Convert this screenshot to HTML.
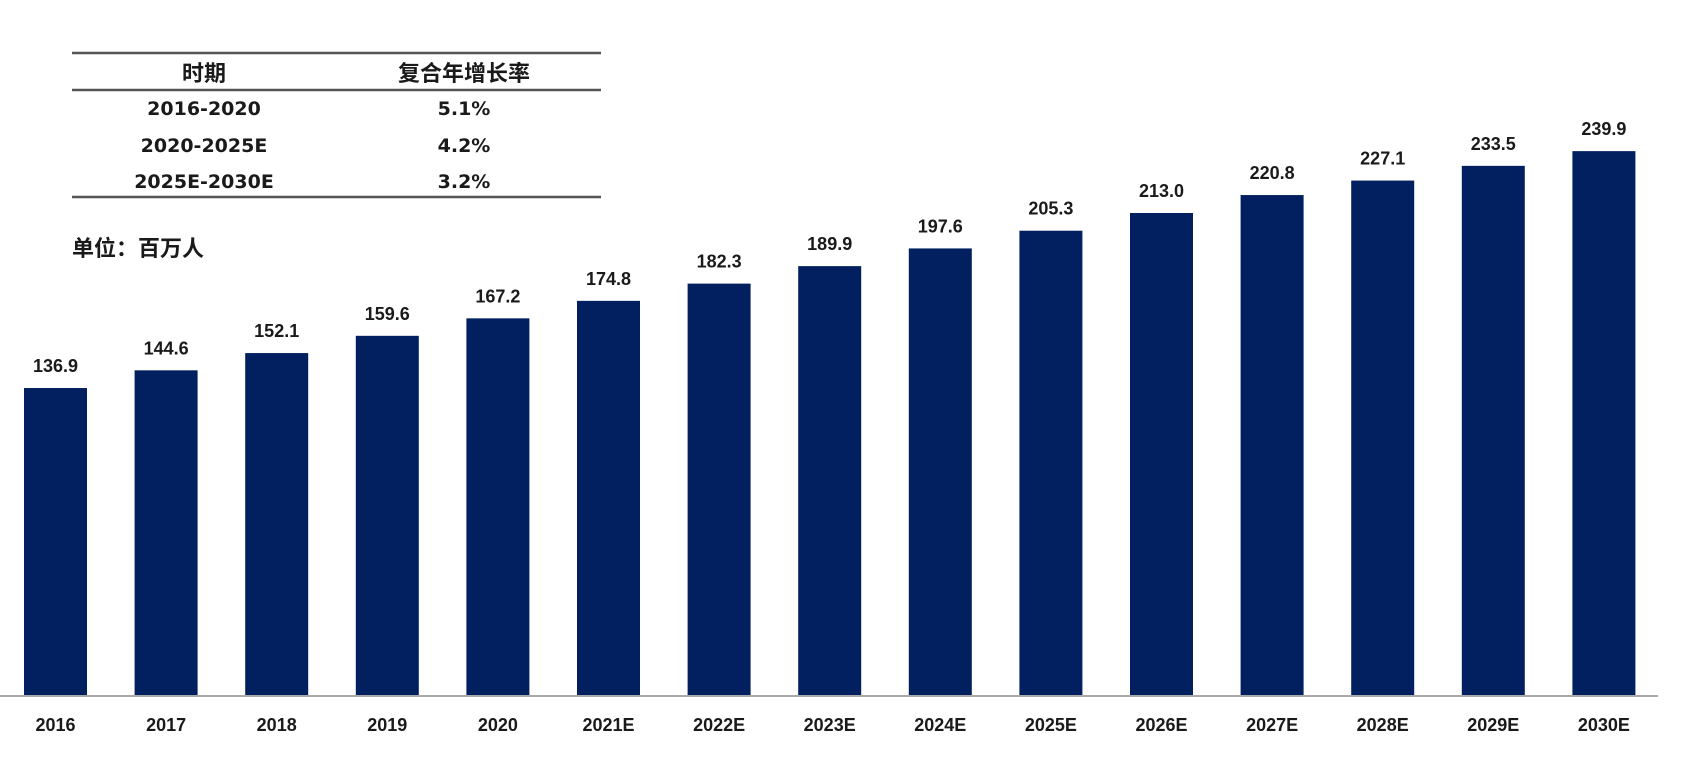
<!DOCTYPE html>
<html><head><meta charset="utf-8"><style>
body{margin:0;background:#fff;width:1684px;height:766px;overflow:hidden;font-family:"Liberation Sans","Noto Sans CJK SC",sans-serif;}
svg text{font-family:"Liberation Sans","Noto Sans CJK SC",sans-serif;font-weight:bold;fill:#1a1a1a;}
svg text.tb{font-family:"DejaVu Sans","Noto Sans CJK SC",sans-serif;}
</style></head><body>
<svg id="chart" width="1684" height="766" viewBox="0 0 1684 766">
<g>
<line x1="72" y1="53" x2="601" y2="53" stroke="#555" stroke-width="2.5"/>
<line x1="72" y1="90" x2="601" y2="90" stroke="#555" stroke-width="2.5"/>
<line x1="72" y1="197" x2="601" y2="197" stroke="#555" stroke-width="2.5"/>
<text x="204" y="81" font-size="22" text-anchor="middle">时期</text>
<text x="464" y="81" font-size="22" text-anchor="middle">复合年增长率</text>
<text class="tb" x="204" y="115" font-size="19" text-anchor="middle">2016-2020</text>
<text class="tb" x="464" y="115" font-size="19" text-anchor="middle">5.1%</text>
<text class="tb" x="204" y="152" font-size="19" text-anchor="middle">2020-2025E</text>
<text class="tb" x="464" y="152" font-size="19" text-anchor="middle">4.2%</text>
<text class="tb" x="204" y="188" font-size="19" text-anchor="middle">2025E-2030E</text>
<text class="tb" x="464" y="188" font-size="19" text-anchor="middle">3.2%</text>
</g>
<text x="72" y="256" font-size="22">单位：百万人</text>
<g id="bars"></g>
<line x1="0" y1="696" x2="1658" y2="696" stroke="#aaa" stroke-width="2"/>
</svg>
<script>
const categories=["2016","2017","2018","2019","2020","2021E","2022E","2023E","2024E","2025E","2026E","2027E","2028E","2029E","2030E"];
const values=[136.9,144.6,152.1,159.6,167.2,174.8,182.3,189.9,197.6,205.3,213.0,220.8,227.1,233.5,239.9];
const valueLabels=["136.9","144.6","152.1","159.6","167.2","174.8","182.3","189.9","197.6","205.3","213.0","220.8","227.1","233.5","239.9"];
const baseY=696, k=2.30, v0=3, x0=55.5, pitch=110.6, bw=63;
const xs=i=>x0+i*pitch, ys=v=>baseY-(v-v0)*k;
const g=document.getElementById('bars'), NS="http://www.w3.org/2000/svg";
categories.forEach((c,i)=>{
  const r=document.createElementNS(NS,'rect');
  r.setAttribute('x',xs(i)-bw/2);r.setAttribute('y',ys(values[i]));
  r.setAttribute('width',bw);r.setAttribute('height',baseY-ys(values[i]));
  r.setAttribute('fill','#02205f');
  
  
  g.appendChild(r);
  const t=document.createElementNS(NS,'text');
  t.setAttribute('x',xs(i));t.setAttribute('y',ys(values[i])-16);
  t.setAttribute('text-anchor','middle');t.setAttribute('font-size','18');
  t.textContent=valueLabels[i];
  
  
  g.appendChild(t);
  const l=document.createElementNS(NS,'text');
  l.setAttribute('x',xs(i));l.setAttribute('y',731);
  l.setAttribute('text-anchor','middle');l.setAttribute('font-size','18');
  l.textContent=c;
  
  
  g.appendChild(l);
});
</script>
</body></html>
